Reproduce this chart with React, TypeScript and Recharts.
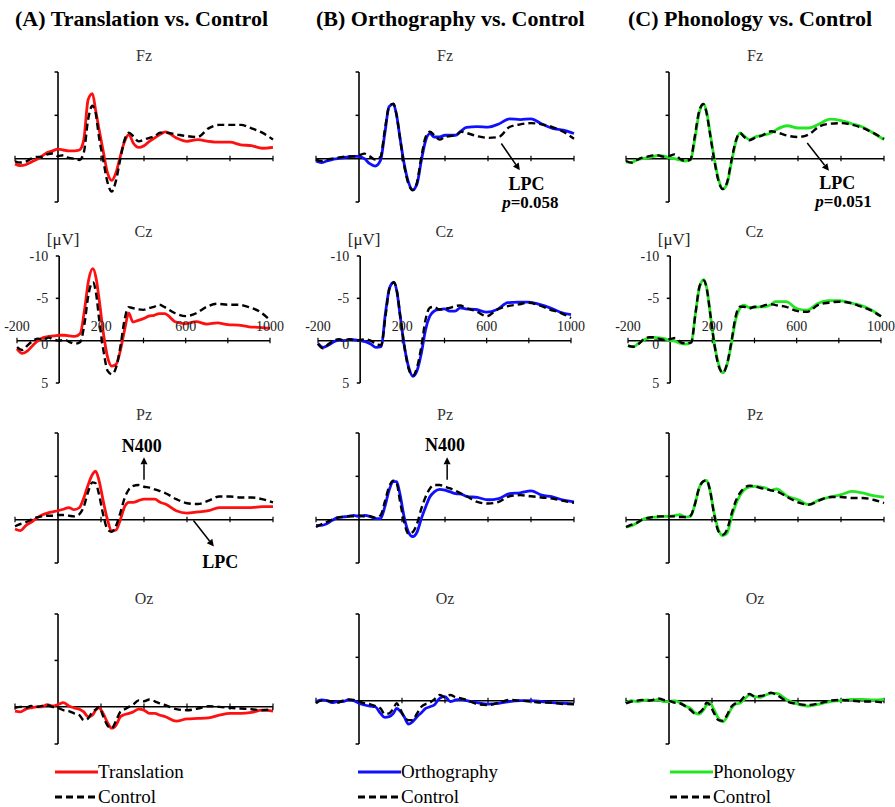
import React from 'react'
import { LineChart, Line, XAxis, YAxis, ReferenceLine, ReferenceDot } from 'recharts'

// sampling times in ms (denser around the early components)
const times = [
  -200, -175, -150, -125, -100, -75, -50, -25, 0,
  25, 50, 75, 100,
  120, 140, 160, 175, 190, 210, 230, 250, 270, 290, 310, 330, 350,
  375, 400, 425, 450, 475, 500,
  550, 600, 650, 700, 750, 800, 850, 900, 950, 1000,
]

// (A) Translation vs. Control, values in µV
const translationFz = [0.6, 0.8, 0.7, 0.4, 0.1, -0.3, -0.7, -0.9, -1.1,
  -1.0, -0.9, -0.9, -1.0,
  -2.2, -6.8, -7.5, -5.6, -3.5, -0.9, 1.6, 2.5, 1.6, -0.3, -2.0, -2.8, -1.8,
  -1.3, -1.5, -2.0, -2.4, -2.8, -3.1,
  -2.4, -2.0, -2.2, -2.0, -1.9, -1.9, -1.6, -1.5, -1.2, -1.3]
const controlAFz = [0.3, 0.45, 0.35, 0, -0.2, -0.2, -0.5, -0.6, -0.3,
  -0.4, -0.1, 0, 0.15,
  -0.7, -4.5, -6.1, -5.3, -2.6, 0.1, 2.7, 3.8, 2.5, 0, -2.2, -3.0, -2.6,
  -2.0, -2.2, -2.4, -2.6, -3.0, -3.0,
  -2.8, -2.6, -2.5, -3.5, -3.9, -3.9, -3.9, -3.5, -3.0, -2.2]
const translationCz = [0.96, 1.5, 1.2, 0.56, 0, -0.36, -0.5, -0.56, -0.64,
  -0.64, -0.56, -0.5, -0.84,
  -3.6, -7.2, -8.5, -7.4, -4.8, -0.84, 2.0, 3.0, 2.8, 1.2, -1.24, -3.24, -2.2,
  -2.4, -2.6, -2.9, -3.0, -3.2, -3.2,
  -2.24, -2.0, -2.24, -1.96, -2.1, -1.9, -1.84, -1.64, -1.56, -1.44]
const controlACz = [0.76, 1.1, 0.56, 0, -0.24, -0.12, -0.36, -0.12, 0,
  -0.12, 0.16, 0.36, 0.16,
  -2.0, -5.6, -6.9, -5.6, -2.44, 1.16, 3.56, 3.96, 3.16, 0.76, -2.44, -3.96, -3.84,
  -3.7, -3.64, -3.84, -4.0, -4.24, -3.96,
  -3.24, -2.9, -3.24, -4.0, -4.36, -4.24, -4.24, -3.96, -3.44, -2.44]
const translationPz = [1.07, 1.26, 0.69, 0.3, -0.15, -0.53, -0.76, -0.9, -1.03,
  -1.2, -1.4, -1.15, -1.4,
  -2.5, -4.0, -5.2, -5.6, -4.6, -2.2, 0.0, 1.3, 1.2, 0.0, -1.5, -2.0, -2.0,
  -2.2, -2.37, -2.37, -2.37, -2.0, -1.8,
  -1.03, -0.76, -0.9, -1.03, -1.4, -1.4, -1.4, -1.4, -1.5, -1.5]
const controlAPz = [0.76, 0.5, 0.3, 0, -0.27, -0.38, -0.46, -0.46, -0.53,
  -0.53, -0.46, -0.38, -0.65,
  -1.5, -3.2, -4.3, -4.2, -3.0, -0.6, 1.1, 1.4, 0.7, -0.8, -2.5, -3.5, -3.9,
  -4.0, -3.8, -3.7, -3.5, -3.3, -3.05,
  -2.37, -1.9, -1.8, -2.2, -2.67, -2.67, -2.56, -2.56, -2.37, -2.0]
const translationOz = [0.46, 0.54, 0.25, 0.1, 0, 0, -0.25, -0.1, -0.25,
  -0.46, -0.1, 0.1, 0.25,
  0.54, 1.07, 0.9, 0.36, 0.1, 0.7, 1.68, 2.3, 1.96, 1.07, 0.82, 0.7, 0.54,
  0.25, 0.36, 0.7, 0.7, 0.9, 1.07,
  1.54, 1.3, 1.25, 1.18, 0.9, 0.7, 0.7, 0.6, 0.36, 0.46]
const controlAOz = [0.1, 0, 0.1, -0.1, 0, -0.1, -0.18, 0, 0.1,
  0.36, 0.46, 0.7, 0.9,
  1.43, 1.25, 0.54, 0.3, 0.0, 1.0, 2.0, 2.3, 1.5, 0.54, 0.25, 0, -0.25,
  -0.7, -0.6, -0.8, -0.6, -0.36, -0.18,
  0.25, 0.36, 0.18, -0.07, 0, 0.1, 0.18, 0.25, 0.36, 0.25]

// (B) Orthography vs. Control
const orthographyFz = [0.27, 0.46, 0.27, 0.1, 0, -0.1, -0.2, -0.27, -0.27,
  0, 0.58, 0.85, 0.2,
  -2.9, -6.0, -6.3, -5.0, -2.5, 0.58, 2.7, 3.6, 2.9, 0.2, -2.1, -2.9, -2.5,
  -2.5, -2.7, -2.7, -2.7, -3.2, -3.6,
  -3.7, -3.65, -4.0, -4.6, -4.5, -4.6, -4.0, -3.5, -3.3, -2.9]
const controlBFz = [0.1, 0.27, 0.1, 0, -0.1, -0.2, -0.27, -0.27, -0.4,
  -0.58, -0.27, 0.1, -0.2,
  -3.3, -6.0, -6.35, -5.0, -2.5, 0.77, 2.9, 3.65, 2.7, -0.2, -2.5, -3.1, -2.7,
  -2.2, -2.5, -2.6, -2.7, -3.1, -2.96,
  -2.6, -2.4, -2.5, -3.65, -3.96, -4.1, -3.96, -3.65, -3.1, -2.3]
const orthographyCz = [0.32, 0.8, 0.52, 0.12, -0.08, 0, -0.16, -0.08, 0,
  0.12, 0.4, 0.8, 0.72,
  -3.28, -6.28, -6.9, -5.68, -2.88, 0.72, 3.12, 4.2, 3.52, 1.52, -1.28, -2.88, -3.48,
  -3.68, -3.76, -3.48, -3.48, -3.88, -3.76,
  -3.68, -3.36, -3.68, -4.48, -4.56, -4.56, -4.28, -3.88, -3.36, -3.08]
const controlBCz = [0.4, 0.92, 0.4, 0, -0.16, 0, -0.16, 0, -0.08,
  -0.16, 0, 0.4, 0.52,
  -2.88, -6.28, -6.88, -5.76, -2.88, 0.72, 3.32, 4.12, 3.12, 0.72, -2.48, -3.88, -4.0,
  -3.68, -3.76, -3.88, -4.08, -4.16, -3.88,
  -3.48, -2.88, -3.68, -4.08, -4.28, -4.48, -4.16, -3.68, -3.28, -2.68]
const orthographyPz = [0.66, 0.66, 0.47, 0.08, -0.23, -0.31, -0.39, -0.5, -0.39,
  -0.5, -0.39, -0.12, -0.12,
  -1.47, -3.4, -4.38, -4.38, -3.0, -0.31, 1.43, 1.94, 1.43, -0.12, -1.47, -2.64, -3.2,
  -3.5, -3.4, -3.2, -3.0, -2.95, -2.7,
  -2.56, -2.3, -2.44, -3.0, -3.1, -3.33, -2.83, -2.64, -2.25, -2.05]
const controlBPz = [0.85, 0.54, 0.27, 0, -0.23, -0.31, -0.39, -0.39, -0.5,
  -0.39, -0.39, -0.23, -0.5,
  -2.05, -3.8, -4.5, -4.2, -2.25, 0.27, 1.63, 1.43, 0.47, -1.28, -2.64, -3.6, -4.0,
  -4.0, -3.8, -3.6, -3.33, -3.0, -2.7,
  -2.05, -1.86, -2.05, -2.7, -2.83, -2.7, -2.56, -2.44, -2.17, -1.94]
const orthographyOz = [0.1, -0.08, 0, 0.23, 0.1, 0.1, -0.08, 0, 0.3,
  0.5, 0.62, 0.7, 1.47,
  1.93, 1.85, 1.47, 0.9, 1.16, 1.85, 2.7, 2.43, 1.85, 1.39, 0.9, 0.7, 0.5,
  -0.27, -0.46, 0.1, -0.08, -0.15, 0,
  0.23, 0.39, 0.3, 0.1, 0, 0, 0.1, 0.23, 0.3, 0.39]
const controlBOz = [0.3, 0, 0, 0.1, 0.23, 0, -0.15, -0.08, 0.1,
  0.3, 0.39, 0.62, 0.9,
  1.54, 1.47, 0.9, 0.3, 0.9, 1.85, 2.24, 2.24, 1.47, 0.7, 0.39, 0.23, -0.15,
  -0.66, -0.39, -0.66, -0.39, -0.27, -0.08,
  0.39, 0.5, 0.23, -0.08, 0, 0.1, 0.23, 0.23, 0.39, 0.39]

// (C) Phonology vs. Control
const phonologyFz = [0.38, 0.46, 0.15, 0, -0.11, -0.23, -0.38, -0.3, -0.11,
  0, 0.15, 0.27, 0.15,
  -2.2, -5.25, -6.3, -5.4, -3.16, -0.11, 2.36, 3.5, 2.9, 0.46, -1.83, -2.97, -2.59,
  -2.2, -2.5, -2.66, -2.78, -2.97, -3.35,
  -3.8, -3.54, -3.54, -4.03, -4.56, -4.4, -4.03, -3.65, -2.97, -2.2]
const controlCFz = [0.27, 0.46, 0.15, -0.11, -0.23, -0.38, -0.38, -0.23, -0.3,
  -0.49, 0, 0.27, 0.08,
  -2.59, -5.44, -6.3, -5.25, -2.97, 0.08, 2.55, 3.5, 2.74, 0.27, -2.0, -2.97, -2.5,
  -2.13, -2.4, -2.59, -2.9, -3.16, -3.04,
  -2.66, -2.5, -2.8, -3.73, -4.03, -4.1, -3.92, -3.54, -2.97, -2.28]
const phonologyCz = [0.6, 0.72, 0.32, -0.08, -0.32, -0.4, -0.32, -0.2, 0,
  0.08, 0.32, 0.4, 0.2,
  -3.2, -6.4, -7.2, -6.0, -3.2, 0.4, 2.8, 3.8, 2.8, 0.4, -2.4, -3.8, -4.2,
  -3.92, -3.92, -4.0, -4.0, -4.2, -4.6,
  -4.6, -3.8, -3.6, -4.4, -4.72, -4.72, -4.48, -4.2, -3.68, -2.88]
const controlCCz = [0.6, 0.72, 0.4, -0.2, -0.4, -0.4, -0.2, -0.08, -0.2,
  -0.32, 0.2, 0.32, 0.2,
  -3.2, -6.48, -7.12, -5.92, -3.2, 0.48, 3.0, 3.8, 2.72, 0.2, -2.8, -4.0, -4.0,
  -3.8, -4.0, -4.0, -4.2, -4.32, -4.2,
  -4.0, -3.52, -3.4, -4.2, -4.48, -4.6, -4.48, -4.08, -3.6, -2.88]
const phonologyPz = [0.85, 0.7, 0.38, 0, -0.19, -0.3, -0.3, -0.38, -0.38,
  -0.46, -0.58, -0.3, -0.38,
  -1.73, -3.65, -4.42, -4.54, -3.46, -0.77, 1.15, 1.85, 1.54, -0.19, -1.73, -2.77, -3.46,
  -3.77, -3.85, -3.77, -3.65, -3.38, -3.54,
  -2.7, -2.3, -1.73, -2.3, -2.6, -2.88, -3.27, -3.08, -2.77, -2.6]
const controlCPz = [0.85, 0.58, 0.38, 0, -0.19, -0.3, -0.38, -0.38, -0.38,
  -0.38, -0.3, -0.3, -0.46,
  -1.73, -3.65, -4.42, -4.54, -3.46, -0.58, 1.35, 1.73, 1.15, -0.58, -2.12, -3.08, -3.65,
  -3.92, -3.85, -3.65, -3.54, -3.38, -3.27,
  -2.62, -2.0, -1.73, -2.23, -2.62, -2.62, -2.5, -2.5, -2.3, -1.92]
const phonologyOz = [0.23, 0, 0.1, 0, -0.08, 0, -0.15, 0.1, 0.1,
  0, 0.23, 0.62, 0.9,
  1.39, 1.54, 1.08, 0.5, 0.3, 1.08, 2.05, 2.43, 1.85, 0.9, 0.39, 0.3, -0.15,
  -0.66, -0.46, -0.39, -0.66, -0.85, -0.85,
  -0.08, 0.39, 0.62, 0.39, 0.1, 0, -0.15, -0.15, -0.08, -0.15]
const controlCOz = [0.3, 0.1, 0, -0.08, 0, -0.08, -0.27, -0.08, 0,
  0.23, 0.3, 0.62, 1.08,
  1.47, 1.39, 0.9, 0.23, 0.5, 1.47, 2.24, 2.32, 1.66, 0.7, 0.3, 0.1, -0.46,
  -0.77, -0.46, -0.54, -0.66, -0.93, -0.66,
  0.1, 0.39, 0.5, 0.3, 0, -0.08, 0, 0.1, 0.1, 0.23]

const xTickValues = [-200, 200, 400, 600, 800, 1000]
const xTickLabels = [-200, 200, 600, 1000]
const yTickLabels = [-10, -5, 0, 5]

const FONT = '"Liberation Serif", "Times New Roman", Times, serif'
const ML = 35
const MR = 25
const MT = 40
const MB = 25

const rows = [
  { name: 'Fz', top: 72, height: 130, dx: 0, width: 258, gap: 17 },
  { name: 'Cz', top: 256, height: 127, dx: 2, width: 253, gap: 25 },
  { name: 'Pz', top: 433, height: 130, dx: 0, width: 258, gap: 19 },
  { name: 'Oz', top: 614, height: 130, dx: 0, width: 258, gap: 16 },
]

const columns = [
  {
    title: '(A) Translation vs. Control', name: 'Translation', color: '#ff1010',
    left: 15, titleLeft: 15, legendLeft: 55, ozMax: 4,
    cond: [translationFz, translationCz, translationPz, translationOz],
    ctrl: [controlAFz, controlACz, controlAPz, controlAOz],
  },
  {
    title: '(B) Orthography vs. Control', name: 'Orthography', color: '#1010ff',
    left: 316, titleLeft: 316, legendLeft: 358, ozMax: 5,
    cond: [orthographyFz, orthographyCz, orthographyPz, orthographyOz],
    ctrl: [controlBFz, controlBCz, controlBPz, controlBOz],
  },
  {
    title: '(C) Phonology vs. Control', name: 'Phonology', color: '#22e622',
    left: 626, titleLeft: 628, legendLeft: 670, ozMax: 5,
    cond: [phonologyFz, phonologyCz, phonologyPz, phonologyOz],
    ctrl: [controlCFz, controlCCz, controlCPz, controlCOz],
  },
]

// annotations: [column, row]
const arrows = [
  { col: 0, row: 2, from: [400, -4.6], to: [400, -7.2] },
  { col: 0, row: 2, from: [630, 0.1], to: [725, 3.1] },
  { col: 1, row: 0, from: [662, -1.75], to: [748, 1.35] },
  { col: 1, row: 2, from: [410, -4.6], to: [410, -7.2] },
  { col: 2, row: 0, from: [643, -1.8], to: [744, 1.4] },
]
const notes = [
  { col: 0, row: 2, at: [390, -8.5], text: 'N400' },
  { col: 0, row: 2, at: [755, 4.9], text: 'LPC' },
  { col: 1, row: 0, at: [779, 2.9], text: 'LPC' },
  { col: 1, row: 0, at: [797, 5.0], text: 'p=0.058' },
  { col: 1, row: 2, at: [400, -8.6], text: 'N400' },
  { col: 2, row: 0, at: [783, 2.8], text: 'LPC' },
  { col: 2, row: 0, at: [812, 4.9], text: 'p=0.051' },
]

const ArrowShape = (p: any) => {
  const { x1, y1, x2, y2 } = p
  const ang = Math.atan2(y2 - y1, x2 - x1)
  const len = 7
  const hw = 3.5
  const bx = x2 - len * Math.cos(ang)
  const by = y2 - len * Math.sin(ang)
  const px = -Math.sin(ang) * hw
  const py = Math.cos(ang) * hw
  return (
    <g>
      <line x1={x1} y1={y1} x2={bx} y2={by} stroke="#000" strokeWidth={1.5} />
      <polygon points={`${x2},${y2} ${bx + px},${by + py} ${bx - px},${by - py}`} fill="#000" />
    </g>
  )
}

const noteText = (text: string) => (p: any) => {
  if (text.startsWith('p=')) {
    return (
      <text x={p.cx} y={p.cy} textAnchor="middle" dominantBaseline="central"
        fontFamily={FONT} fontSize={17} fontWeight="bold" fill="#000">
        <tspan fontStyle="italic">p</tspan>{text.slice(1)}
      </text>
    )
  }
  return (
    <text x={p.cx} y={p.cy} textAnchor="middle" dominantBaseline="central"
      fontFamily={FONT} fontSize={18} fontWeight="bold" fill="#000">{text}</text>
  )
}

function Panel({ colIdx, rowIdx }: { colIdx: number; rowIdx: number }) {
  const col = columns[colIdx]
  const row = rows[rowIdx]
  const cond = col.cond[rowIdx]
  const ctrl = col.ctrl[rowIdx]
  const yMax = rowIdx === 3 ? col.ozMax : 5
  const data = times.map((t, i) => ({ t, cond: cond[i], ctrl: ctrl[i] }))
  const plotLeft = col.left + row.dx
  const yTicks = [-10, -5, yMax]
  const isCz = row.name === 'Cz'

  return (
    <div style={{ position: 'absolute', left: plotLeft - ML, top: row.top - MT }}>
      <LineChart width={row.width + ML + MR} height={row.height + MT + MB} data={data}
        margin={{ top: MT, right: MR, bottom: MB, left: ML }}>
        <XAxis type="number" dataKey="t" domain={[-200, 1000]} hide />
        <YAxis type="number" domain={[-10, yMax]} reversed hide />
        <ReferenceLine y={0} stroke="#000" strokeWidth={1.5} />
        <ReferenceLine x={0} stroke="#000" strokeWidth={1.6} />
        {xTickValues.map((t) => (
          <ReferenceLine key={'xt' + t} segment={[{ x: t, y: -0.35 }, { x: t, y: 0.3 }]}
            stroke="#000" strokeWidth={1.2} />
        ))}
        {yTicks.map((v) => (
          <ReferenceLine key={'yt' + v} segment={[{ x: -16, y: v }, { x: 0, y: v }]}
            stroke="#000" strokeWidth={1.5} />
        ))}
        <ReferenceDot x={400} y={-10} r={0} shape={(p: any) => (
          <text x={p.cx} y={p.cy - row.gap} textAnchor="middle" dominantBaseline="central"
            fontFamily={FONT} fontSize={16} fill="#333">{row.name}</text>
        )} />
        {isCz && (
          <ReferenceDot x={0} y={-10} r={0} shape={(p: any) => (
            <text x={p.cx + 4} y={p.cy - 17} textAnchor="middle" dominantBaseline="central"
              fontFamily={FONT} fontSize={17} fill="#222">[μV]</text>
          )} />
        )}
        {isCz && xTickLabels.map((t) => (
          <ReferenceDot key={'xl' + t} x={t} y={0} r={0} shape={(p: any) => (
            <text x={p.cx} y={p.cy - 14} textAnchor="middle" dominantBaseline="central"
              fontFamily={FONT} fontSize={14} fill="#222">{t}</text>
          )} />
        ))}
        {isCz && yTickLabels.map((v) => (
          <ReferenceDot key={'yl' + v} x={0} y={v} r={0} shape={(p: any) => (
            <text x={p.cx - 11} y={p.cy + (v === 0 ? 4 : 0)} textAnchor="end" dominantBaseline="central"
              fontFamily={FONT} fontSize={14} fill="#222">{v}</text>
          )} />
        ))}
        <Line type="monotone" dataKey="cond" stroke={col.color} strokeWidth={2.8}
          dot={false} activeDot={false} isAnimationActive={false} />
        <Line type="monotone" dataKey="ctrl" stroke="#000" strokeWidth={2.4} strokeDasharray="7 4"
          dot={false} activeDot={false} isAnimationActive={false} />
        {arrows.filter((a) => a.col === colIdx && a.row === rowIdx).map((a, i) => (
          <ReferenceLine key={'ar' + i}
            segment={[{ x: a.from[0], y: a.from[1] }, { x: a.to[0], y: a.to[1] }]}
            shape={ArrowShape} />
        ))}
        {notes.filter((n) => n.col === colIdx && n.row === rowIdx).map((n, i) => (
          <ReferenceDot key={'nt' + i} x={n.at[0]} y={n.at[1]} r={0} shape={noteText(n.text)} />
        ))}
      </LineChart>
    </div>
  )
}

export default function App() {
  return (
    <div style={{
      position: 'absolute', left: 0, top: 0, width: 895, height: 807,
      overflow: 'hidden', background: '#fff', fontFamily: FONT, color: '#000',
    }}>
      {columns.map((c, ci) => (
        <React.Fragment key={c.title}>
          <div style={{
            position: 'absolute', left: c.titleLeft, top: 7, fontSize: 22, lineHeight: '24px',
            fontWeight: 'bold', whiteSpace: 'nowrap',
          }}>{c.title}</div>
          {rows.map((r, ri) => <Panel key={r.name} colIdx={ci} rowIdx={ri} />)}
          <div style={{ position: 'absolute', left: c.legendLeft, top: 762, height: 20, display: 'flex', alignItems: 'center' }}>
            <svg width={43} height={6}><line x1={0} y1={3} x2={43} y2={3} stroke={c.color} strokeWidth={3} /></svg>
            <span style={{ fontSize: 19, lineHeight: '20px', whiteSpace: 'nowrap' }}>{c.name}</span>
          </div>
          <div style={{ position: 'absolute', left: c.legendLeft, top: 787, height: 20, display: 'flex', alignItems: 'center' }}>
            <svg width={43} height={6}><line x1={0} y1={3} x2={43} y2={3} stroke="#000" strokeWidth={3} strokeDasharray="7 4" /></svg>
            <span style={{ fontSize: 19, lineHeight: '20px', whiteSpace: 'nowrap' }}>Control</span>
          </div>
        </React.Fragment>
      ))}
    </div>
  )
}
